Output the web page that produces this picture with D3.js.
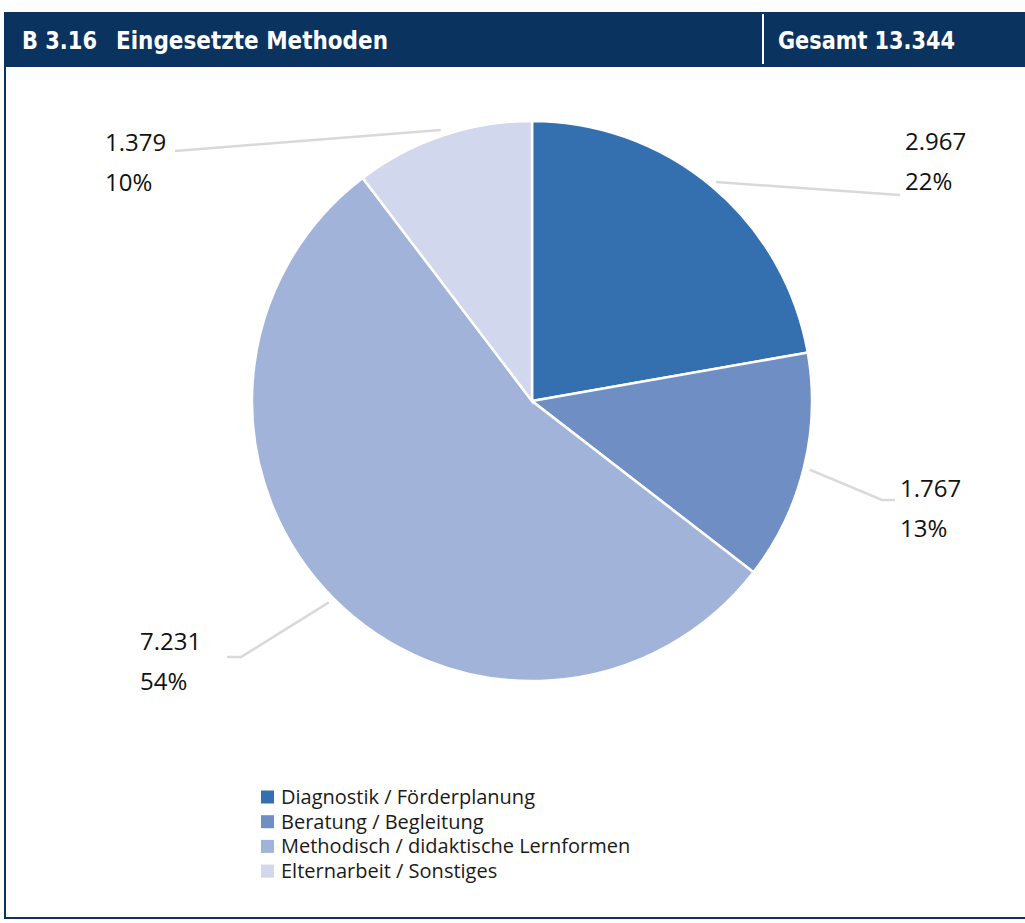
<!DOCTYPE html>
<html><head><meta charset="utf-8">
<script src="https://cdn.jsdelivr.net/npm/d3@7"></script>
<style>body{margin:0;background:#fff}svg{display:block}</style>
</head><body>
<script>
const categories = ["Diagnostik / Förderplanung","Beratung / Begleitung","Methodisch / didaktische Lernformen","Elternarbeit / Sonstiges"];
const values = [2967, 1767, 7231, 1379];
const valueLabels = ["2.967","1.767","7.231","1.379"];
const percentLabels = ["22%","13%","54%","10%"];
const colors = ["#3470b0","#6f8fc4","#a2b3da","#d1d7ec"];
const titleNumber = "B 3.16";
const titleText = "Eingesetzte Methoden";
const totalLabel = "Gesamt 13.344";

const W = 1025, H = 923;
const svg = d3.select("body").append("svg").attr("width", W).attr("height", H);

// Header band
svg.append("rect").attr("x",4).attr("y",12).attr("width",W-4).attr("height",55).attr("fill","#0a3360");
svg.append("line").attr("x1",763).attr("x2",763).attr("y1",14).attr("y2",64).attr("stroke","#fff").attr("stroke-width",2);
const hFont = "'Liberation Sans Narrow','DejaVu Sans Condensed','Roboto',sans-serif";
function headerText(x, len, t) {
  svg.append("text").attr("x",x).attr("y",49).attr("fill","#fff").attr("font-family",hFont)
    .attr("font-weight","bold").attr("font-size",24)
    .attr("textLength",len).attr("lengthAdjust","spacingAndGlyphs").text(t);
}
headerText(22, 75, titleNumber);
headerText(116, 272, titleText);
headerText(778, 177, totalLabel);
// Frame
svg.append("line").attr("x1",5).attr("x2",5).attr("y1",67).attr("y2",919).attr("stroke","#0a3360").attr("stroke-width",2);
svg.append("line").attr("x1",4).attr("x2",W).attr("y1",918).attr("y2",918).attr("stroke","#0a3360").attr("stroke-width",2);

// Pie
const cx = 532, cy = 401, R = 280;
const pie = d3.pie().sort(null).value(d => d)(values);
const arc = d3.arc().innerRadius(0).outerRadius(R);
const leaderArc = d3.arc().innerRadius(R + 6).outerRadius(R + 6);
const g = svg.append("g").attr("transform",`translate(${cx},${cy})`);
g.selectAll("path").data(pie).join("path").attr("d",arc)
  .attr("fill",(d,i)=>colors[i]).attr("stroke","#fff").attr("stroke-width",2.5);

// Labels with leader lines
const font = "'Segoe UI','Open Sans','Noto Sans',sans-serif";
const labelPos = [[905,150],[900,497],[140,650],[105,151]];
const lineEnds = [[[900,195]],[[882,500],[895,500]],[[241,657],[227,657]],[[175,151]]];
pie.forEach((d,i)=>{
  const c = leaderArc.centroid(d);
  const pts = [[cx + c[0], cy + c[1]]].concat(lineEnds[i]);
  svg.append("path").attr("d", d3.line()(pts)).attr("fill","none").attr("stroke","#d9d9d9").attr("stroke-width",2.5);
  const [lx, ly] = labelPos[i];
  svg.append("text").attr("x",lx).attr("y",ly).attr("font-family",font).attr("font-size",24).attr("fill","#111").text(valueLabels[i]);
  svg.append("text").attr("x",lx).attr("y",ly+40).attr("font-family",font).attr("font-size",24).attr("fill","#111").text(percentLabels[i]);
});

// Legend
const lg = svg.append("g");
categories.forEach((c,i)=>{
  const y = 797 + i*24.7;
  lg.append("rect").attr("x",261).attr("y",y-6.5).attr("width",13).attr("height",13).attr("fill",colors[i]);
  lg.append("text").attr("x",281).attr("y",y+7).attr("font-family",font).attr("font-size",20).attr("fill","#1a1a1a").text(c);
});
</script>
</body></html>
